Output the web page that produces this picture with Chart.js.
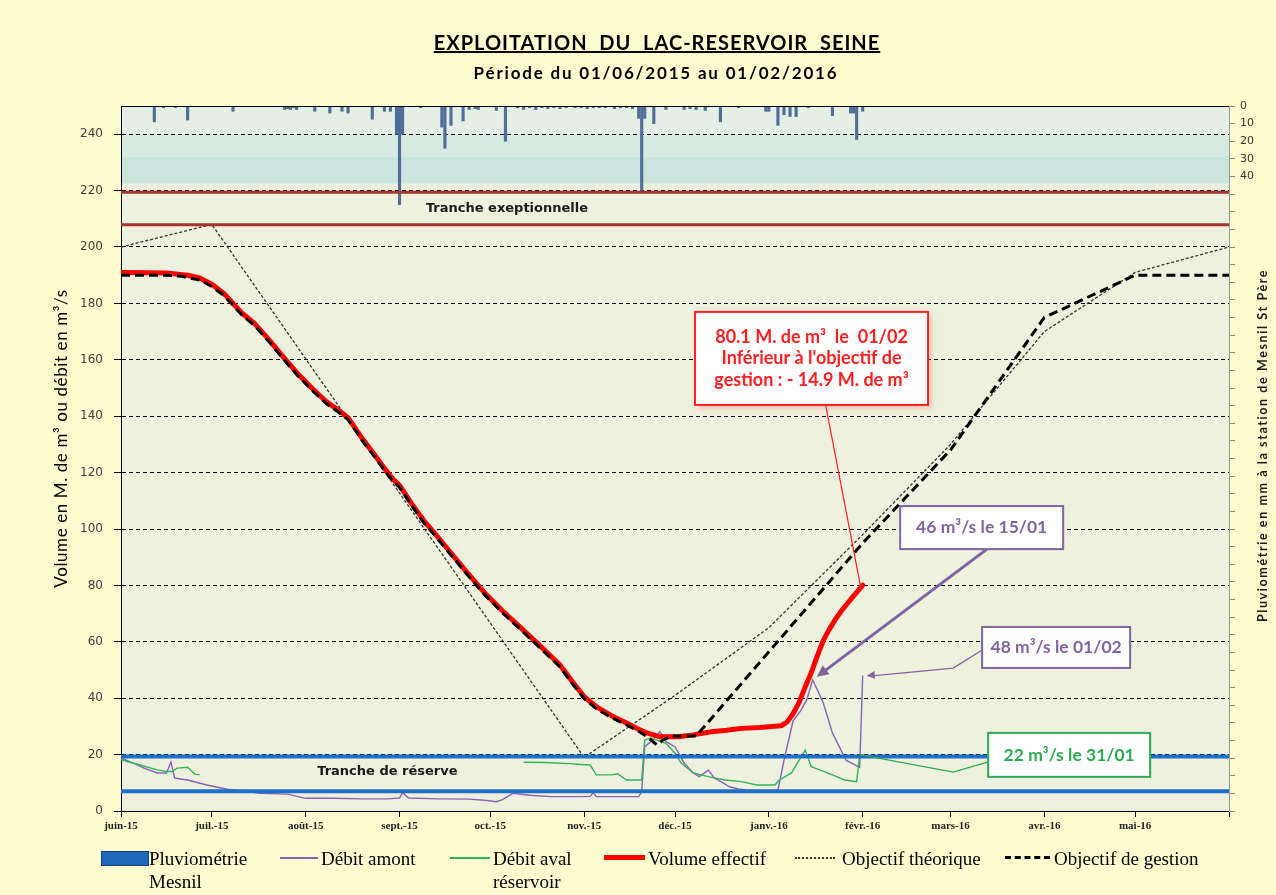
<!DOCTYPE html>
<html lang="fr">
<head>
<meta charset="utf-8">
<title>Exploitation du lac-réservoir Seine</title>
<script src="https://cdn.jsdelivr.net/npm/chart.js@4.4.1/dist/chart.umd.min.js"></script>
<style>
  html, body { margin: 0; padding: 0; background: #fdfdd0; }
  #wrap { position: relative; width: 1276px; height: 895px; overflow: hidden; }
  #chart { position: absolute; left: 0; top: 0; }
  .t1 { position: absolute; left: 0; width: 1314px; top: 30px; text-align: center; letter-spacing: 1px;
        font: bold 20px Lato, sans-serif; text-decoration: underline; white-space: pre; color: #000; }
  .t2 { position: absolute; left: 0; width: 1312px; top: 62px; text-align: center; letter-spacing: 1.8px;
        font: bold 17px Lato, sans-serif; color: #000; }
  .lg { position: absolute; top: 847px; font: 19px "Liberation Serif", serif; line-height: 23px; color: #000; }
  .sym { position: absolute; }
</style>
</head>
<body>
<div id="wrap">
  <canvas id="chart" width="1276" height="895"></canvas>
  <div class="t1">EXPLOITATION  DU  LAC-RESERVOIR  SEINE</div>
  <div class="t2">Période du 01/06/2015 au 01/02/2016</div>

  <div class="sym" style="left:101px;top:851px;width:46px;height:13px;background:#2066b8;border:1px solid #1b3f73;"></div>
  <div class="lg" style="left:149px">Pluviométrie<br>Mesnil</div>
  <div class="sym" style="left:280px;top:857px;width:38px;height:0;border-top:2px solid #8a62b8;"></div>
  <div class="lg" style="left:321px">Débit amont</div>
  <div class="sym" style="left:450px;top:857px;width:40px;height:0;border-top:2px solid #33b35a;"></div>
  <div class="lg" style="left:493px">Débit aval<br>réservoir</div>
  <div class="sym" style="left:604px;top:855px;width:41px;height:0;border-top:5px solid #ff0000;"></div>
  <div class="lg" style="left:648px">Volume effectif</div>
  <div class="sym" style="left:795px;top:857px;width:40px;height:0;border-top:2px dotted #333;"></div>
  <div class="lg" style="left:842px">Objectif théorique</div>
  <div class="sym" style="left:1005px;top:856px;width:45px;height:0;border-top:3px dashed #000;"></div>
  <div class="lg" style="left:1054px">Objectif de gestion</div>
</div>
<script>
// jours comptés depuis le 01/06/2015
const monthDays = [0, 30, 61, 92, 122, 153, 183, 214, 245, 274, 305, 335, 366];
const monthLabels = ['juin-15', 'juil.-15', 'août-15', 'sept.-15', 'oct.-15', 'nov.-15', 'déc.-15',
  'janv.-16', 'févr.-16', 'mars-16', 'avr.-16', 'mai-16', ''];
const volumeTicks = [0, 20, 40, 60, 80, 100, 120, 140, 160, 180, 200, 220, 240];
const pluvioLabels = [0, 10, 20, 30, 40];

// Volume effectif (M. de m3)
const volumeDays = [0, 8, 15, 22, 26, 30, 34, 37, 40, 44, 49, 54, 58, 63, 68, 72, 75, 80, 84, 87,
  90, 92, 96, 100, 104, 109, 114, 120, 126, 132, 138, 145, 149, 153, 157, 162, 167, 171, 174, 178,
  184, 189, 195, 200, 205, 211, 218, 220, 222, 224, 226, 228, 230, 232, 234, 236, 238, 241, 243, 245];
const volumeValues = [191, 190.9, 190.8, 190, 189, 186.8, 183.5, 180, 176.5, 173, 167, 160.5, 155.5, 150, 145, 142, 139.5, 131.6, 126, 121.5,
  117.5, 115.5, 109, 103, 98, 91.5, 85, 77.5, 71, 65, 59, 51.8, 46, 40.5, 37, 33.8, 31.2, 29, 27.6, 26.3,
  26.3, 27, 28.1, 28.6, 29.3, 29.6, 30.2, 31.5, 34.5, 38.5, 44, 49, 55, 60.5, 64.5, 68, 71, 75, 77.5, 80.1];

// Objectif de gestion
const gestionDays = [0, 15, 20, 26, 30, 34, 37, 40, 44, 49, 54, 58, 63, 68, 72, 75, 80, 84, 87, 90,
  92, 96, 100, 104, 109, 114, 120, 126, 132, 138, 145, 149, 153, 157, 162, 167, 171, 174, 177, 179,
  182, 190, 245, 274, 305, 335, 366];
const gestionValues = [190, 190, 189.6, 188.3, 186, 182.8, 179.3, 175.8, 172.3, 166.3, 159.8, 154.8, 149.3, 144.3, 141.3, 138.8, 130.9, 125.3, 120.8, 116.8,
  114.8, 108.3, 102.3, 97.3, 90.8, 84.3, 76.8, 70.3, 64.3, 58.3, 51.1, 45.3, 39.8, 36.3, 33.1, 30.5, 28.3, 26.2, 23.4, 25.2,
  26.6, 26.6, 95, 128, 175, 190, 190];

// Objectif théorique
const theoDays = [0, 30, 153, 183, 214, 245, 274, 305, 335, 366];
const theoValues = [200, 208, 19, 41, 65, 98, 130, 170, 191, 200];

// Débit amont (m3/s)
const amontDays = [0, 4, 8, 12, 15, 16.5, 17.7, 22, 28, 35, 40, 46, 55, 61, 70, 80, 88, 92, 93, 95,
  105, 115, 120, 124, 126, 129.5, 135, 142, 150, 155, 156, 157, 165, 171, 172, 173, 175, 178, 180, 183,
  186, 189, 191, 194, 196, 199, 201, 204, 207, 212, 217, 219, 222, 224.5, 226.5, 228.5, 232, 235, 239.5, 244, 245];
const amontValues = [18.8, 17, 15, 13.5, 13.5, 17.3, 11.7, 11, 9.3, 7.7, 7.2, 6.3, 6, 4.5, 4.5, 4.3, 4.3, 4.6, 6.5, 4.6,
  4.3, 4.2, 3.8, 3.3, 4, 6.3, 5.6, 5.1, 5.1, 5.2, 6.5, 5.1, 5.1, 5.1, 6.8, 22.8, 24.6, 28.1, 24.6, 22.8,
  17, 13.5, 12.2, 14.5, 11.7, 9.9, 8.6, 7.8, 7.4, 7.2, 7.4, 18, 32, 35.5, 39.4, 46.5, 38.3, 27.7, 18, 15.5, 48];

// Débit aval réservoir (m3/s), lacune entre fin juin et mi-octobre
const avalDays = [0, 6, 12, 15, 17, 18.5, 22, 24.5, 26, 27, 133, 140, 148, 152, 155, 157, 162, 164, 167, 172,
  173, 175, 180, 183, 185, 189, 194, 199.5, 205, 210, 216, 217.5, 221.5, 226, 228, 231, 235, 239, 243, 244];
const avalValues = [18.2, 16.4, 14.6, 14, 14, 15.2, 15.5, 13, 12.9, null, 17.3, 17.2, 16.8, 16.5, 16.3, 12.8, 12.8, 13.2, 11, 11,
  25.2, 25.9, 24, 20.5, 17, 13.5, 12.2, 11, 10.4, 9.2, 9.2, 11, 13.5, 21.6, 15.7, 14.5, 12.8, 11, 10.4, 20];

// Pluviométrie à Mesnil St Père (mm)
const pluvioDays = [11, 14, 18, 22, 37, 54, 55, 56, 57, 58, 64, 69, 73, 75, 83, 87, 89, 91, 92, 93,
  99, 106, 107, 109, 113, 115, 117, 118, 124, 127, 131, 133, 135, 137, 139, 141, 143, 145, 147, 150,
  152, 154, 156, 158, 160, 163, 165, 167, 169, 171, 172, 173, 176, 180, 186, 188, 190, 193, 198, 204,
  213, 214, 217, 219, 221, 223, 227, 235, 241, 242, 243, 245];
const pluvioMm = [9, 1, 1, 8, 3, 2, 1.5, 2, 1, 2, 3, 4, 3, 4, 7.5, 3, 3, 16, 56, 16,
  1, 12, 24, 11, 8.5, 2, 1.5, 2, 2.5, 20, 1, 2, 1, 2, 1, 1.5, 1, 1.5, 1, 1,
  1, 1.5, 1, 1, 1, 1.5, 1, 1, 1.5, 7, 48, 7, 10, 2, 2, 1.5, 2, 2.5, 9, 1,
  3, 3, 11, 5, 6, 6, 1, 5.5, 4, 4, 19, 3];

// limites des tranches
const trancheExceptionnelle = [219.4, 207.9];
const trancheReserve = [19.3, 7];

const pts = (xs, ys) => xs.map((x, i) => ({ x, y: ys[i] }));

const bands = [
  { from: 250, to: 240, color: '#e5efe5' },
  { from: 240, to: 232, color: '#d7eae2' },
  { from: 232, to: 222.5, color: '#cbe5de' },
];

function arrowHead(ctx, x0, y0, x1, y1, size) {
  const a = Math.atan2(y1 - y0, x1 - x0);
  ctx.beginPath();
  ctx.moveTo(x1, y1);
  ctx.lineTo(x1 - size * Math.cos(a - 0.45), y1 - size * Math.sin(a - 0.45));
  ctx.lineTo(x1 - size * Math.cos(a + 0.45), y1 - size * Math.sin(a + 0.45));
  ctx.closePath();
  ctx.fill();
}

function calloutBox(ctx, cx, cy, w, h, color, lines, font, lh, shadow) {
  ctx.save();
  if (shadow) {
    ctx.shadowColor = 'rgba(255,80,80,0.35)';
    ctx.shadowBlur = 6;
    ctx.shadowOffsetX = 3;
    ctx.shadowOffsetY = 3;
  }
  ctx.fillStyle = '#fff';
  ctx.fillRect(cx - w / 2, cy - h / 2, w, h);
  ctx.restore();
  ctx.strokeStyle = color;
  ctx.lineWidth = 2;
  ctx.strokeRect(cx - w / 2, cy - h / 2, w, h);
  ctx.fillStyle = color;
  ctx.font = font;
  ctx.textAlign = 'center';
  ctx.textBaseline = 'middle';
  lines.forEach((t, i) => ctx.fillText(t, cx, cy + (i - (lines.length - 1) / 2) * lh));
}

const decor = {
  id: 'decor',
  beforeDraw(chart) {
    const { ctx, chartArea: a, scales: { y } } = chart;
    ctx.save();
    ctx.fillStyle = '#edf1dd';
    ctx.fillRect(a.left, a.top, a.width, a.height);
    bands.forEach(b => {
      const top = y.getPixelForValue(b.from);
      ctx.fillStyle = b.color;
      ctx.fillRect(a.left, top, a.width, y.getPixelForValue(b.to) - top);
    });
    ctx.restore();
  },
  afterDatasetsDraw(chart) {
    const { ctx, chartArea: a, scales: { x, y } } = chart;
    ctx.save();
    // tranches
    ctx.lineWidth = 3;
    ctx.strokeStyle = '#a8322f';
    trancheExceptionnelle.forEach(v => {
      ctx.beginPath(); ctx.moveTo(a.left, y.getPixelForValue(v)); ctx.lineTo(a.right, y.getPixelForValue(v)); ctx.stroke();
    });
    ctx.lineWidth = 4;
    ctx.strokeStyle = '#1f6fc7';
    trancheReserve.forEach(v => {
      ctx.beginPath(); ctx.moveTo(a.left, y.getPixelForValue(v)); ctx.lineTo(a.right, y.getPixelForValue(v)); ctx.stroke();
    });
    ctx.fillStyle = '#1a1a1a';
    ctx.font = 'bold 13px "DejaVu Sans"';
    ctx.textAlign = 'center';
    ctx.textBaseline = 'middle';
    ctx.fillText('Tranche exeptionnelle', x.getPixelForValue(127.5), y.getPixelForValue(213.5));
    ctx.fillText('Tranche de réserve', x.getPixelForValue(88), y.getPixelForValue(13.8));

    // bordure haute
    ctx.strokeStyle = '#000';
    ctx.lineWidth = 1;
    ctx.beginPath(); ctx.moveTo(a.left, a.top + 0.5); ctx.lineTo(a.right, a.top + 0.5); ctx.stroke();

    // volume au 01/02
    const vx = x.getPixelForValue(volumeDays[volumeDays.length - 1]);
    const vy = y.getPixelForValue(volumeValues[volumeValues.length - 1]);
    const rcx = x.getPixelForValue(228.1), rcy = y.getPixelForValue(160.5);
    ctx.strokeStyle = '#ff2020';
    ctx.lineWidth = 1.2;
    ctx.beginPath(); ctx.moveTo(rcx + 14, rcy + 46); ctx.lineTo(vx - 2, vy + 2); ctx.stroke();
    calloutBox(ctx, rcx, rcy, 233, 93, '#ff2020',
      ['80.1 M. de m³  le  01/02', "Inférieur à l'objectif de", 'gestion : - 14.9 M. de m³'],
      'bold 18px Lato', 21.7, true);

    // débit amont max le 15/01
    const iPeak = amontDays.indexOf(228.5);
    const px = x.getPixelForValue(amontDays[iPeak]) + 4;
    const py = y.getPixelForValue(amontValues[iPeak]) - 3;
    const p1x = x.getPixelForValue(284.3), p1y = y.getPixelForValue(100.5);
    ctx.strokeStyle = '#8064a2';
    ctx.fillStyle = '#8064a2';
    ctx.lineWidth = 3;
    ctx.beginPath(); ctx.moveTo(p1x + 6, p1y + 21); ctx.lineTo(px + 6, py - 4.5); ctx.stroke();
    arrowHead(ctx, p1x + 6, p1y + 21, px, py, 13);
    calloutBox(ctx, p1x, p1y, 163, 43, '#8064a2', ['46 m³/s le 15/01'], 'bold 17.5px Lato', 20);

    // débit amont le 01/02
    const ax = x.getPixelForValue(amontDays[amontDays.length - 1]) + 4;
    const ay = y.getPixelForValue(amontValues[amontValues.length - 1]);
    const p2x = x.getPixelForValue(308.9), p2y = y.getPixelForValue(58);
    const e2x = x.getPixelForValue(274.9), e2y = y.getPixelForValue(50.7);
    ctx.strokeStyle = '#8064a2';
    ctx.fillStyle = '#8064a2';
    ctx.lineWidth = 1.3;
    ctx.beginPath(); ctx.moveTo(p2x - 74, p2y + 2.5); ctx.lineTo(e2x, e2y); ctx.lineTo(ax + 8, ay); ctx.stroke();
    arrowHead(ctx, e2x, e2y, ax, ay, 9);
    calloutBox(ctx, p2x, p2y, 148, 41, '#8064a2', ['48 m³/s le 01/02'], 'bold 17.5px Lato', 20);

    // débit aval le 31/01
    const gx = x.getPixelForValue(avalDays[avalDays.length - 1]);
    const gy = y.getPixelForValue(avalValues[avalValues.length - 1]);
    const p3x = x.getPixelForValue(313.2), p3y = y.getPixelForValue(19.9);
    const e3x = x.getPixelForValue(274.9), e3y = y.getPixelForValue(13.8);
    ctx.strokeStyle = '#2eaa52';
    ctx.lineWidth = 1.3;
    ctx.beginPath(); ctx.moveTo(p3x - 81, p3y + 7); ctx.lineTo(e3x, e3y); ctx.lineTo(gx, gy); ctx.stroke();
    calloutBox(ctx, p3x, p3y, 162, 44, '#2eaa52', ['22 m³/s le 31/01'], 'bold 17.5px Lato', 20);

    ctx.restore();
  },
  afterDraw(chart) {
    const { ctx, chartArea: a } = chart;
    const mid = (a.top + a.bottom) / 2;
    ctx.save();
    ctx.fillStyle = '#000';
    ctx.textAlign = 'center';
    ctx.textBaseline = 'middle';
    ctx.translate(62, mid - 20);
    ctx.rotate(-Math.PI / 2);
    ctx.font = '17px Lato';
    ctx.letterSpacing = '0.6px';
    ctx.fillText('Volume en M. de m³ ou débit en m³/s', 0, 0);
    ctx.restore();
    ctx.save();
    ctx.fillStyle = '#1a1a1a';
    ctx.textAlign = 'center';
    ctx.textBaseline = 'middle';
    ctx.translate(1263, mid - 13);
    ctx.rotate(-Math.PI / 2);
    ctx.font = 'bold 12.5px Lato';
    ctx.letterSpacing = '1.6px';
    ctx.fillText('Pluviométrie en mm à la station de Mesnil St Père', 0, 0);
    ctx.restore();
  }
};

new Chart(document.getElementById('chart'), {
  type: 'line',
  data: {
    datasets: [
      { label: 'Objectif de gestion', data: pts(gestionDays, gestionValues), borderColor: '#000', borderWidth: 3,
        borderDash: [9, 5], pointRadius: 0, order: 1 },
      { label: 'Volume effectif', data: pts(volumeDays, volumeValues), borderColor: '#ff0000', borderWidth: 5,
        borderJoinStyle: 'round', borderCapStyle: 'round', pointRadius: 0, order: 2 },
      { label: 'Objectif théorique', data: pts(theoDays, theoValues), borderColor: '#333', borderWidth: 1.3,
        borderDash: [3, 2], pointRadius: 0, order: 3 },
      { label: 'Débit aval réservoir', data: pts(avalDays, avalValues), borderColor: '#33b35a', borderWidth: 1.4,
        pointRadius: 0, spanGaps: false, order: 4 },
      { label: 'Débit amont', data: pts(amontDays, amontValues), borderColor: '#8a62b8', borderWidth: 1.4,
        pointRadius: 0, order: 5 },
      { type: 'bar', label: 'Pluviométrie Mesnil', data: pts(pluvioDays, pluvioMm), yAxisID: 'y2',
        backgroundColor: '#4f6f98', barThickness: 2.5, order: 6 },
    ],
  },
  options: {
    responsive: false,
    animation: false,
    events: [],
    layout: { padding: { top: 106, left: 0, right: 0, bottom: 0 } },
    plugins: { legend: { display: false }, tooltip: { enabled: false } },
    scales: {
      x: {
        type: 'linear', min: 0, max: 366, offset: false,
        afterBuildTicks: s => { s.ticks = monthDays.map(v => ({ value: v })); },
        afterFit: s => { s.height = 84; },
        ticks: { autoSkip: false, maxRotation: 0, padding: 3, color: '#222',
          font: { family: 'Liberation Serif', size: 11, weight: 'bold' },
          callback: (v, i) => monthLabels[i] },
        grid: { offset: false, drawOnChartArea: false, tickLength: 6, color: '#000' },
        border: { color: '#000', width: 1 },
      },
      y: {
        min: 0, max: 250,
        afterBuildTicks: s => { s.ticks = volumeTicks.map(v => ({ value: v })); },
        afterFit: s => { s.width = 121; },
        ticks: { autoSkip: false, padding: 11, color: '#404040', font: { family: 'DejaVu Sans', size: 12 } },
        grid: { tickLength: 7, tickColor: '#000', tickBorderDash: [],
          color: c => (c.tick && c.tick.value === 0 ? 'rgba(0,0,0,0)' : '#000') },
        border: { color: '#000', width: 1, dash: [4, 3] },
      },
      y2: {
        position: 'right', reverse: true, min: 0, max: 400,
        afterBuildTicks: s => { s.ticks = Array.from({ length: 41 }, (_, i) => ({ value: i * 10 })); },
        afterFit: s => { s.width = 47; },
        ticks: { autoSkip: false, padding: 5, color: '#333', font: { family: 'DejaVu Sans', size: 11 },
          callback: v => (pluvioLabels.includes(v) ? String(v) : '') },
        grid: { drawOnChartArea: false, tickLength: 6, color: '#888' },
        border: { color: '#999', width: 1 },
      },
    },
  },
  plugins: [decor],
});
</script>
</body>
</html>
